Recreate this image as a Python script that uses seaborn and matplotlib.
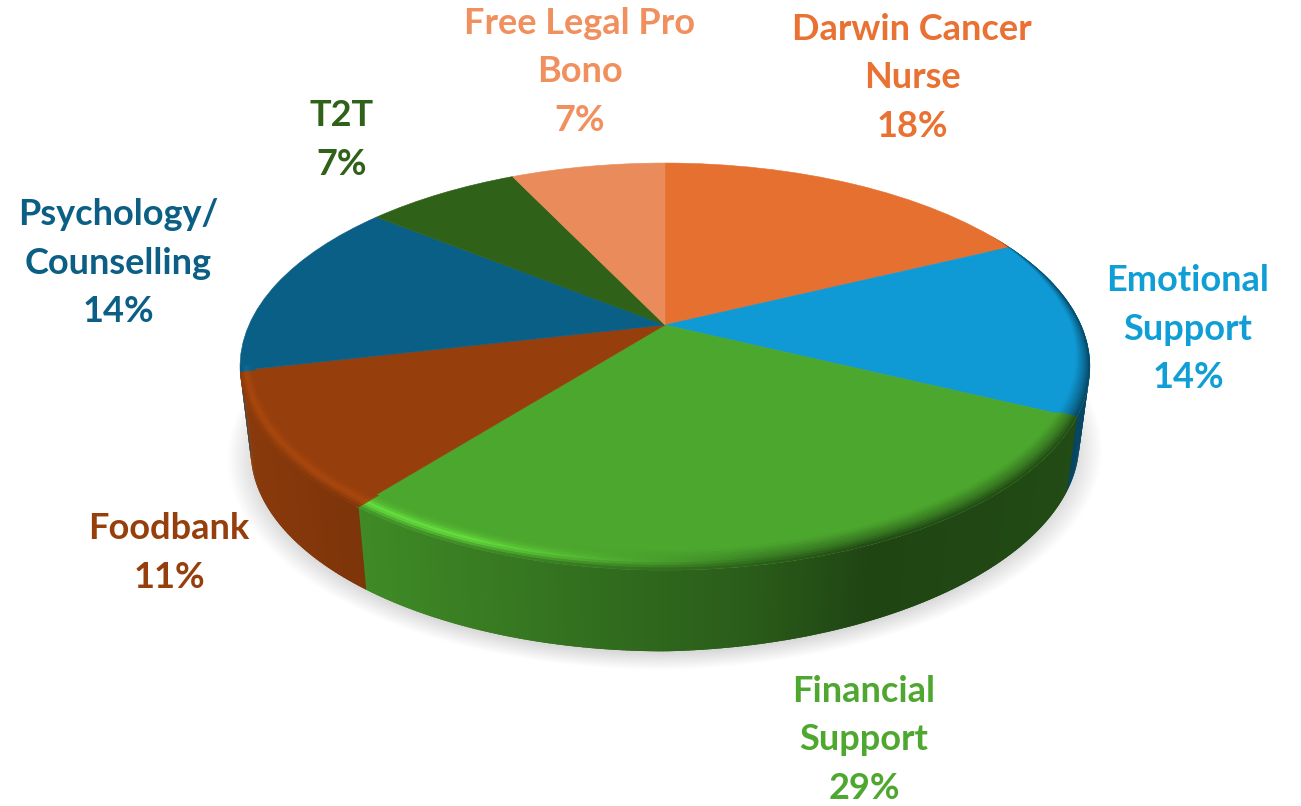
import numpy as np
import matplotlib
matplotlib.use("Agg")
import matplotlib.pyplot as plt
import seaborn as sns
from matplotlib.collections import PolyCollection
from matplotlib.colors import to_rgb
from matplotlib.transforms import Transform

# Chart data
categories = ["Darwin Cancer\nNurse", "Emotional\nSupport", "Financial\nSupport", "Foodbank",
              "Psychology/\nCounselling", "T2T", "Free Legal Pro\nBono"]
values = [5, 4, 8, 3, 4, 2, 2]

# Styles
top_colors = ["#E6702F", "#0F9AD6", "#4CA72E", "#963F0C", "#095F85", "#2F6118", "#EA8B5C"]
label_colors = ["#E97132", "#0F9ED5", "#4EA72E", "#963F0C", "#0B5F85", "#2F6118", "#F0905E"]
label_pos = [(912, 78), (1188, 329), (864, 740), (169, 553), (118, 263), (342, 140), (580, 72)]

sns.set_theme(style="white")
plt.rcParams["font.family"] = ["Lato", "DejaVu Sans"]


def project(u, v):
    # tilted disc seen in perspective, returns pixel position
    w = 1 + 0.204 * v
    return 665 + 416 * u / w, 325 - 195 * v / w


class Perspective(Transform):
    input_dims = 2
    output_dims = 2
    is_separable = False
    has_inverse = False

    def transform_non_affine(self, values):
        xy = np.asarray(values)
        x, y = project(xy[:, 0], xy[:, 1])
        return np.column_stack([x, y])


def bottom_of(x, y):
    # same rim on the lower face of the disc
    dx = x - 665
    dy = y - 325
    return 665 + dx * 0.975, 325 + dy * 0.985 + 85 - 0.02 * np.maximum(dx, 0)


def rim(theta, r=1.0):
    return project(r * np.sin(theta), r * np.cos(theta))


def shade_at(x):
    return np.interp(x, [240, 360, 560, 750, 870, 1090], [0.92, 0.83, 0.68, 0.55, 0.41, 0.45])


fig = plt.figure(figsize=(13.01, 8.06), dpi=100)
ax = fig.add_axes([0, 0, 1, 1])

# Top face
colors = sns.color_palette(top_colors)
wedges, _ = ax.pie(values, colors=colors, startangle=90, counterclock=False,
                   wedgeprops=dict(linewidth=0.4))
persp = Perspective()
for wedge, color in zip(wedges, colors):
    wedge.set_edgecolor(color)
    wedge.set_transform(persp + ax.transData)
    wedge.set_zorder(3)

ax.set_aspect("auto")
ax.set_xlim(0, 1301)
ax.set_ylim(806, 0)
ax.axis("off")

edges = np.cumsum([0] + values) / sum(values) * 2 * np.pi
step = np.deg2rad(0.5)
angles = np.deg2rad(np.arange(60, 258, 0.5))


def slice_color(theta):
    idx = np.searchsorted(edges, theta, side="right") - 1
    return np.array(colors[min(idx, len(colors) - 1)])


# Soft shadow below the disc
ring = np.deg2rad(np.arange(0, 360, 2))
sx, sy = bottom_of(*rim(ring))
for grow in np.linspace(1.055, 0.97, 24):
    ax.fill(665 + (sx - 665) * grow, 405 + (sy - 405) * grow + 5, color="#000000", alpha=0.0085,
            lw=0, zorder=1)

# Side wall, each piece overlaps the next so no seams show
quads, quad_colors = [], []
for a in angles:
    mid = a + step / 2
    x0, y0 = rim(a - step * 0.6)
    x1, y1 = rim(a + step * 1.6)
    bx0, by0 = bottom_of(x0, y0)
    bx1, by1 = bottom_of(x1, y1)
    quads.append([(x0, y0), (x1, y1), (bx1, by1), (bx0, by0)])
    quad_colors.append(slice_color(mid) * shade_at((x0 + x1) / 2))
ax.add_collection(PolyCollection(quads, facecolors=quad_colors, linewidths=0, zorder=2))

# Bevel between top face and wall
bevel, bevel_colors = [], []
steps = np.linspace(0, 1, 9)
for a in angles:
    mid = a + step / 2
    b0, b1 = a - step * 0.6, a + step * 1.6
    base = slice_color(mid)
    x_mid, _ = rim(mid)
    fade = np.clip((np.rad2deg(mid) - 62) / 30, 0, 1)
    light = np.clip((760 - x_mid) / 300, 0, 1)
    if base[1] > base[0] and base[1] > base[2]:
        glow = 0.36
    else:
        glow = 0.14
    wall = base * shade_at(x_mid)
    for t0, t1 in zip(steps[:-1], steps[1:]):
        pts = []
        for th, t in [(b0, t0), (b1, t0), (b1, t1), (b0, t1)]:
            r = 1 - (0.025 + 0.04 * abs(np.cos(th))) * (1 - t) * fade
            pts.append(rim(th, r))
        bevel.append(pts)
        tm = (t0 + t1) / 2
        bright = np.clip(base * (1 + glow * light), 0, 1)
        if tm < 0.6:
            c = base + (bright - base) * (tm / 0.6) ** 2
            c = c + (wall - c) * (1 - light) * (tm / 0.6) * 0.5
        else:
            start = bright + (wall - bright) * (1 - light) * 0.5
            c = start + (wall - start) * ((tm - 0.6) / 0.4)
        bevel_colors.append(np.clip(c, 0, 1))
ax.add_collection(PolyCollection(bevel, facecolors=bevel_colors, linewidths=0, zorder=4))

# Labels
total = sum(values)
for name, val, pos, col in zip(categories, values, label_pos, label_colors):
    ax.text(pos[0], pos[1], f"{name}\n{100 * val / total:.0f}%", ha="center", va="center",
            color=to_rgb(col), fontsize=26, fontweight="bold", linespacing=1.58, zorder=5)

fig.savefig("out.png", dpi=100)
